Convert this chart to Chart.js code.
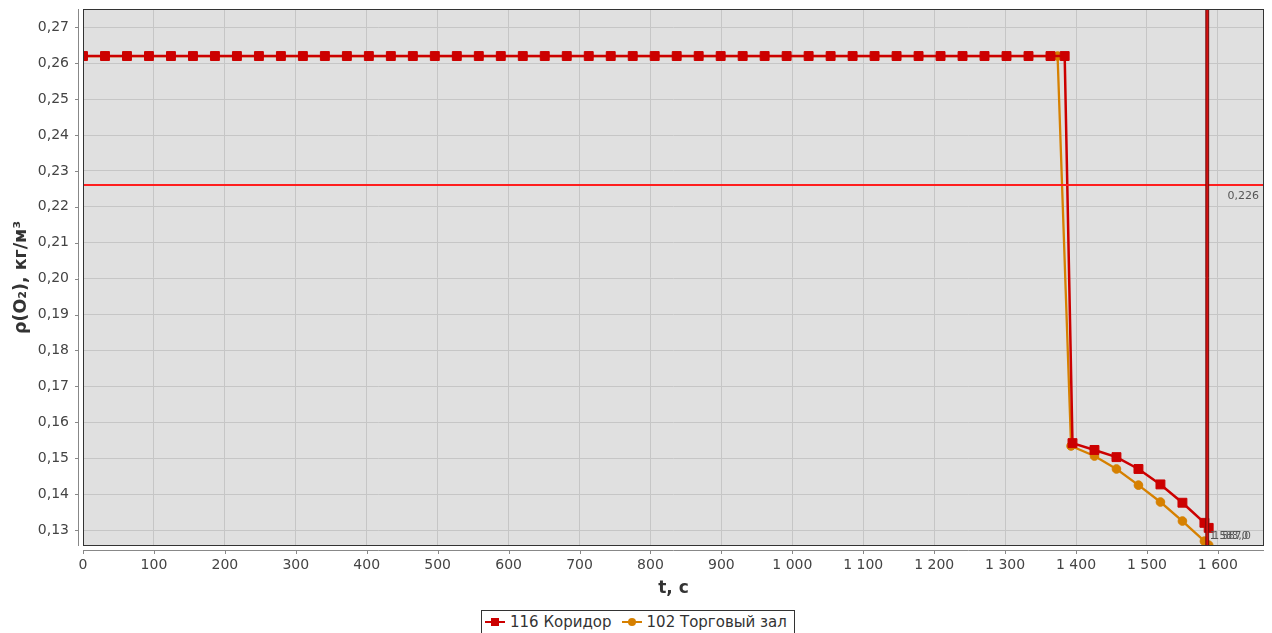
<!DOCTYPE html>
<html>
<head>
<meta charset="utf-8">
<script src="https://cdn.jsdelivr.net/npm/chart.js@4.4.1/dist/chart.umd.min.js"></script>
<style>
  html, body { margin: 0; padding: 0; background: #fff; }
  #wrap { position: relative; width: 1272px; height: 633px; overflow: hidden; }
  #legend {
    position: absolute; left: 481px; top: 610px; height: 26px;
    border: 1px solid #333; box-sizing: border-box; background: #fff;
    display: flex; align-items: center; padding: 0 7px 2px 3px;
    font: 15px "DejaVu Sans"; color: #333; white-space: nowrap;
  }
  .item { display: flex; align-items: center; margin-right: 10px; }
  .item:last-child { margin-right: 0; }
  .sym { position: relative; width: 20px; height: 10px; margin-right: 5px; }
  .sym .ln { position: absolute; left: 0; right: 0; top: 4px; height: 2px; }
  .sym .mk { position: absolute; left: 6px; top: 1px; width: 8px; height: 8px; }
</style>
</head>
<body>
<div id="wrap">
  <canvas id="chart" width="1272" height="633"></canvas>
  <div id="legend"></div>
</div>
<script>
// 116 Коридор
const corridorT = [0, 31, 62, 93, 124, 155, 186, 217, 248, 279, 310, 341, 372, 403, 434, 465, 496, 527, 558, 589,
  620, 651, 682, 713, 744, 775, 806, 837, 868, 899, 930, 961, 992, 1023, 1054, 1085, 1116, 1147, 1178, 1209,
  1240, 1271, 1302, 1333, 1364, 1384, 1395, 1426, 1457, 1488, 1519, 1550, 1581, 1587];
const corridorV = [0.262, 0.262, 0.262, 0.262, 0.262, 0.262, 0.262, 0.262, 0.262, 0.262, 0.262, 0.262, 0.262, 0.262, 0.262,
  0.262, 0.262, 0.262, 0.262, 0.262, 0.262, 0.262, 0.262, 0.262, 0.262, 0.262, 0.262, 0.262, 0.262, 0.262,
  0.262, 0.262, 0.262, 0.262, 0.262, 0.262, 0.262, 0.262, 0.262, 0.262, 0.262, 0.262, 0.262, 0.262, 0.262,
  0.262, 0.1542, 0.1523, 0.1503, 0.1470, 0.1427, 0.1376, 0.1320, 0.1306];

// 102 Торговый зал
const hallT = [0, 31, 62, 93, 124, 155, 186, 217, 248, 279, 310, 341, 372, 403, 434, 465, 496, 527, 558, 589,
  620, 651, 682, 713, 744, 775, 806, 837, 868, 899, 930, 961, 992, 1023, 1054, 1085, 1116, 1147, 1178, 1209,
  1240, 1271, 1302, 1333, 1364, 1374, 1393, 1426, 1457, 1488, 1519, 1550, 1581, 1587];
const hallV = [0.262, 0.262, 0.262, 0.262, 0.262, 0.262, 0.262, 0.262, 0.262, 0.262, 0.262, 0.262, 0.262, 0.262, 0.262,
  0.262, 0.262, 0.262, 0.262, 0.262, 0.262, 0.262, 0.262, 0.262, 0.262, 0.262, 0.262, 0.262, 0.262, 0.262,
  0.262, 0.262, 0.262, 0.262, 0.262, 0.262, 0.262, 0.262, 0.262, 0.262, 0.262, 0.262, 0.262, 0.262, 0.262,
  0.262, 0.1534, 0.1506, 0.1470, 0.1425, 0.1378, 0.1325, 0.1269, 0.1258];

const seriesNames = ["116 Коридор", "102 Торговый зал"];
const criticalLevel = [0.226];
const markerTimes = [1583, 1587];

const RED = "#cc0000";
const ORANGE = "#d68000";
const FONT = "DejaVu Sans";

function spaced(v) {
  return String(v).replace(/\B(?=(\d{3})+(?!\d))/g, " ");
}
function comma(v, d) {
  return v.toFixed(d).replace(".", ",");
}
function points(ts, vs) {
  return ts.map((t, i) => ({ x: t, y: vs[i] }));
}

const decor = {
  id: "decor",
  beforeDraw(chart) {
    const { ctx, chartArea: a } = chart;
    ctx.save();
    ctx.fillStyle = "#e0e0e0";
    ctx.fillRect(a.left, a.top, a.right - a.left, a.bottom - a.top);
    ctx.restore();
  },
  afterDatasetsDraw(chart) {
    const { ctx, chartArea: a, scales: { x, y } } = chart;
    ctx.save();
    // critical level
    criticalLevel.forEach((v) => {
      const py = Math.round(y.getPixelForValue(v));
      ctx.strokeStyle = "#ff1f1f";
      ctx.lineWidth = 2;
      ctx.beginPath();
      ctx.moveTo(a.left, py);
      ctx.lineTo(a.right, py);
      ctx.stroke();
      ctx.fillStyle = "#555";
      ctx.font = "11px " + FONT;
      ctx.textAlign = "right";
      ctx.textBaseline = "middle";
      ctx.fillText(comma(v, 3), a.right - 5, py + 11);
    });
    // time markers
    const p0 = x.getPixelForValue(markerTimes[0]);
    const p1 = x.getPixelForValue(markerTimes[markerTimes.length - 1]);
    ctx.fillStyle = "#d81010";
    ctx.fillRect(p0, a.top, p1 - p0, a.bottom - a.top);
    ctx.strokeStyle = "#6e0c0c";
    ctx.lineWidth = 1;
    markerTimes.forEach((t) => {
      const px = x.getPixelForValue(t);
      ctx.beginPath();
      ctx.moveTo(px, a.top);
      ctx.lineTo(px, a.bottom);
      ctx.stroke();
    });
    ctx.fillStyle = "#555";
    ctx.font = "10px " + FONT;
    ctx.textAlign = "left";
    ctx.textBaseline = "middle";
    markerTimes.forEach((t) => {
      const px = x.getPixelForValue(t);
      ctx.fillText(spaced(Math.floor(t)) + ",0", px + 4, a.bottom - 10);
    });
    // plot border
    ctx.strokeStyle = "#333";
    ctx.lineWidth = 1;
    ctx.strokeRect(a.left + 0.5, a.top + 0.5, a.right - a.left - 1, a.bottom - a.top - 1);
    ctx.restore();
  },
  afterDraw(chart) {
    const { ctx, chartArea: a, scales: { x, y } } = chart;
    ctx.save();
    ctx.strokeStyle = "#888";
    ctx.lineWidth = 1;
    ctx.beginPath();
    const ax = a.left - 4.5;
    ctx.moveTo(ax, a.top);
    ctx.lineTo(ax, a.bottom);
    y.ticks.forEach((t) => {
      const py = Math.round(y.getPixelForValue(t.value)) + 0.5;
      ctx.moveTo(ax - 3.5, py);
      ctx.lineTo(ax, py);
    });
    const ay = a.bottom + 4.5;
    ctx.moveTo(a.left, ay);
    ctx.lineTo(a.right, ay);
    x.ticks.forEach((t) => {
      const px = Math.round(x.getPixelForValue(t.value)) + 0.5;
      ctx.moveTo(px, ay);
      ctx.lineTo(px, ay + 3.5);
    });
    ctx.stroke();
    ctx.restore();
  },
};

new Chart(document.getElementById("chart"), {
  type: "line",
  data: {
    datasets: [
      {
        label: seriesNames[0],
        data: points(corridorT, corridorV),
        borderColor: RED,
        backgroundColor: RED,
        borderWidth: 2.5,
        pointStyle: "rect",
        pointRadius: 6.3,
        pointBorderWidth: 1,
        tension: 0,
        clip: 0,
      },
      {
        label: seriesNames[1],
        data: points(hallT, hallV),
        borderColor: ORANGE,
        backgroundColor: ORANGE,
        borderWidth: 2.3,
        pointStyle: "circle",
        pointRadius: 4.3,
        pointBorderWidth: 1,
        tension: 0,
        clip: 0,
      },
    ],
  },
  options: {
    responsive: false,
    animation: false,
    events: [],
    layout: { padding: { left: 0, right: 8, top: 9, bottom: 23 } },
    plugins: { legend: { display: false }, tooltip: { enabled: false } },
    scales: {
      x: {
        type: "linear",
        min: 0,
        max: 1665,
        grid: { color: "#c6c6c6", drawTicks: true, tickLength: 11, tickColor: "rgba(0,0,0,0)" },
        border: { display: false },
        ticks: {
          stepSize: 100,
          includeBounds: false,
          autoSkip: false,
          maxRotation: 0,
          padding: 0,
          color: "#444",
          font: { family: FONT, size: 14 },
          callback: (v) => spaced(v),
        },
        title: {
          display: true,
          text: "t, с",
          color: "#333",
          font: { family: FONT, size: 17, weight: "bold" },
          padding: { top: 0, bottom: 11 },
        },
        afterFit(s) { s.height = 64; },
      },
      y: {
        type: "linear",
        min: 0.12555,
        max: 0.2751,
        grid: { color: "#c6c6c6", drawTicks: true, tickLength: 14, tickColor: "rgba(0,0,0,0)" },
        border: { display: false },
        ticks: {
          stepSize: 0.01,
          includeBounds: false,
          padding: 0,
          color: "#444",
          font: { family: FONT, size: 14 },
          callback: (v) => comma(v, 2),
        },
        title: {
          display: true,
          text: "ρ(O₂), кг/м³",
          color: "#333",
          font: { family: FONT, size: 17.5, weight: "bold" },
          padding: { top: 11, bottom: 0 },
        },
        afterFit(s) { s.width = 83; },
      },
    },
  },
  plugins: [decor],
});

const legend = document.getElementById("legend");
legend.innerHTML = seriesNames.map((name, i) => {
  const c = i === 0 ? RED : ORANGE;
  const r = i === 0 ? "0" : "50%";
  return `<span class="item"><span class="sym"><span class="ln" style="background:${c}"></span>` +
    `<span class="mk" style="background:${c};border-radius:${r}"></span></span>${name}</span>`;
}).join("");
</script>
</body>
</html>
